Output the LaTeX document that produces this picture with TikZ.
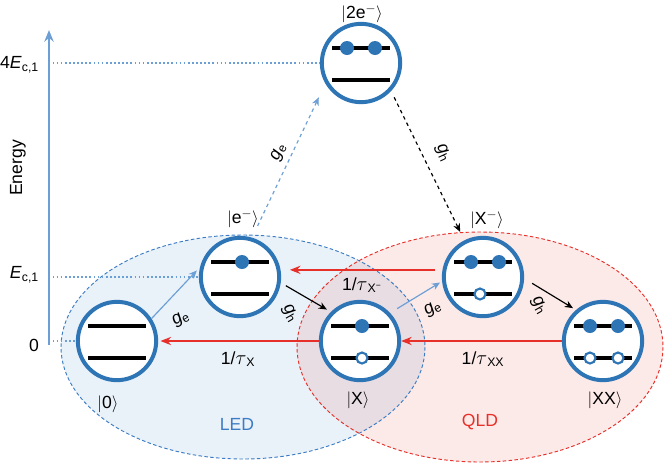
\documentclass[tikz,border=0pt]{standalone}
\usepackage{fontspec}
\setmainfont{Liberation Sans}
\usetikzlibrary{arrows.meta}

\definecolor{ringblue}{RGB}{46,117,182}
\definecolor{axisblue}{RGB}{108,159,214}
\definecolor{ledblue}{RGB}{60,124,196}
\definecolor{ledfill}{RGB}{233,241,249}
\definecolor{qldred}{RGB}{232,48,42}
\definecolor{qldfill}{RGB}{252,234,232}
\definecolor{bothfill}{RGB}{231,221,227}

\newcommand{\ketlbl}[1]{$|$#1$\rangle$}
\newcommand{\bigtau}{{\fontsize{18}{20}\selectfont$\tau$}}
\newcommand{\twolevels}[1]{%
  \draw[level] ([shift={(-29,-15)}]#1.center) -- ++(58,0);
  \draw[level] ([shift={(-29,17)}]#1.center) -- ++(58,0);}
\newcommand{\elec}[3]{\fill[ringblue] ([shift={(#2,#3)}]#1.center) circle (7);}
\newcommand{\hole}[3]{\draw[ringblue, line width=1.8pt, fill=white] ([shift={(#2,#3)}]#1.center) circle (5.5);}

\begin{document}
\begin{tikzpicture}[x=0.03cm, y=-0.03cm, font=\fontsize{15}{18}\selectfont,
    state/.style={circle, draw=ringblue, line width=3.4pt, fill=white, minimum size=2.35cm, inner sep=0pt},
    level/.style={black, line width=2.6pt},
    gearrow/.style={axisblue, line width=1pt, -{Stealth[length=7pt, width=6pt]}},
    gharrow/.style={black, line width=1pt, -{Stealth[length=7pt, width=6pt]}},
    decay/.style={qldred, line width=1.3pt, -{Stealth[length=9pt, width=7pt]}},
    dotline/.style={axisblue, line width=1.5pt, dotted}]
    \useasboundingbox (0,0) rectangle (666,464);

    % LED and QLD regions
    \fill[ledfill] (243,347) ellipse [x radius=182, y radius=112];
    \fill[qldfill] (480,347) ellipse [x radius=183, y radius=115];
    \begin{scope}
        \clip (243,347) ellipse [x radius=182, y radius=112];
        \fill[bothfill] (480,347) ellipse [x radius=183, y radius=115];
    \end{scope}
    \draw[ledblue, line width=0.8pt, dash pattern=on 3pt off 2pt] (243,347) ellipse [x radius=182, y radius=112];
    \draw[qldred, line width=0.8pt, dash pattern=on 3pt off 2pt] (480,347) ellipse [x radius=183, y radius=115];
    \node[ledblue] (led) at (237,424) {LED};
    \node[qldred] (qld) at (480,422) {QLD};

    % States
    \node[state] (s0) at (117,341) {};
    \node[state] (se) at (240,277) {};
    \node[state] (s2e) at (361,63) {};
    \node[state] (sX) at (360,341) {};
    \node[state] (sXm) at (483,277) {};
    \node[state] (sXX) at (603,341) {};

    % Levels, electrons and holes
    \twolevels{s0}
    \twolevels{se}  \elec{se}{2}{-15}
    \twolevels{s2e} \elec{s2e}{-14}{-15} \elec{s2e}{14}{-15}
    \twolevels{sX}  \elec{sX}{2}{-15}    \hole{sX}{2}{17}
    \twolevels{sXm} \elec{sXm}{-12}{-15} \elec{sXm}{16}{-15} \hole{sXm}{-3}{17}
    \twolevels{sXX} \elec{sXX}{-13}{-15} \elec{sXX}{15}{-15} \hole{sXX}{-13}{17} \hole{sXX}{15}{17}

    % State labels
    \node (l0) at (108,404) {\ketlbl{0}};
    \node (le) at (243,219) {\ketlbl{e$^-$}};
    \node (l2e) at (362,14) {\ketlbl{2e$^-$}};
    \node (lX) at (358,400) {\ketlbl{X}};
    \node (lXm) at (487,220) {\ketlbl{X$^-$}};
    \node (lXX) at (605,400) {\ketlbl{XX}};

    % Energy axis
    \coordinate (ax0) at (49,345);
    \coordinate (axtop) at (49,30);
    \draw[axisblue, line width=2.5pt, -{Stealth[length=10pt, width=8pt]}] (ax0) -- (axtop);
    \node[rotate=90] (energy) at (18,168) {Energy};
    \node[anchor=east] (t4) at (43,65) {4\textit{E}\textsubscript{c,1}};
    \node[anchor=east] (t1) at (43,275) {\textit{E}\textsubscript{c,1}};
    \node[anchor=east] (t0) at (43,345) {0};
    \draw[dotline, shorten <=3pt] (ax0 |- s2e.west) -- (s2e.west);
    \draw[dotline, shorten <=3pt] (ax0 |- se.west) -- (se.west);
    \draw[dotline, shorten <=3pt] (ax0 |- s0.west) -- (s0.west);

    % Capture of electrons and holes
    \draw[gearrow, shorten >=4pt] (s0.33) -- (se.166);
    \node[rotate=30] (ge1) at (181,319) {\textit{g}\textsubscript{e}};
    \draw[gearrow, dashed, shorten <=11pt, shorten >=13pt] (se.73) -- (s2e.210);
    \node[rotate=65] (ge2) at (279,152) {\textit{g}\textsubscript{e}};
    \draw[gharrow, dashed, shorten <=6pt, shorten >=8pt] (s2e.317) -- (sXm.117);
    \node[rotate=-65] (gh1) at (443,153) {\textit{g}\textsubscript{h}};
    \draw[gharrow, shorten <=5pt, shorten >=4pt] (se.-8) -- (sX.135);
    \node[rotate=-60] (gh2) at (290,313) {\textit{g}\textsubscript{h}};
    \draw[gearrow, shorten <=7pt, shorten >=2pt] (sX.43) -- (sXm.186);
    \node[rotate=30] (ge3) at (433,309) {\textit{g}\textsubscript{e}};
    \draw[gharrow, shorten <=8pt, shorten >=3pt] (sXm.-2) -- (sXX.131);
    \node[rotate=-60] (gh3) at (539,305) {\textit{g}\textsubscript{h}};

    % Radiative decays
    \draw[decay, shorten <=6pt, shorten >=8pt] (sXm.170) -- (se.10);
    \node (tXm) at (362,285) {1/\bigtau\textsubscript{X\textsuperscript{−}}};
    \draw[decay, shorten >=2pt] (sX.west) -- (s0.east);
    \node (tX) at (238,359) {1/\bigtau\textsubscript{X}};
    \draw[decay] (sXX.west) -- (sX.east);
    \node (tXX) at (483,359) {1/\bigtau\textsubscript{XX}};
\end{tikzpicture}
\end{document}
